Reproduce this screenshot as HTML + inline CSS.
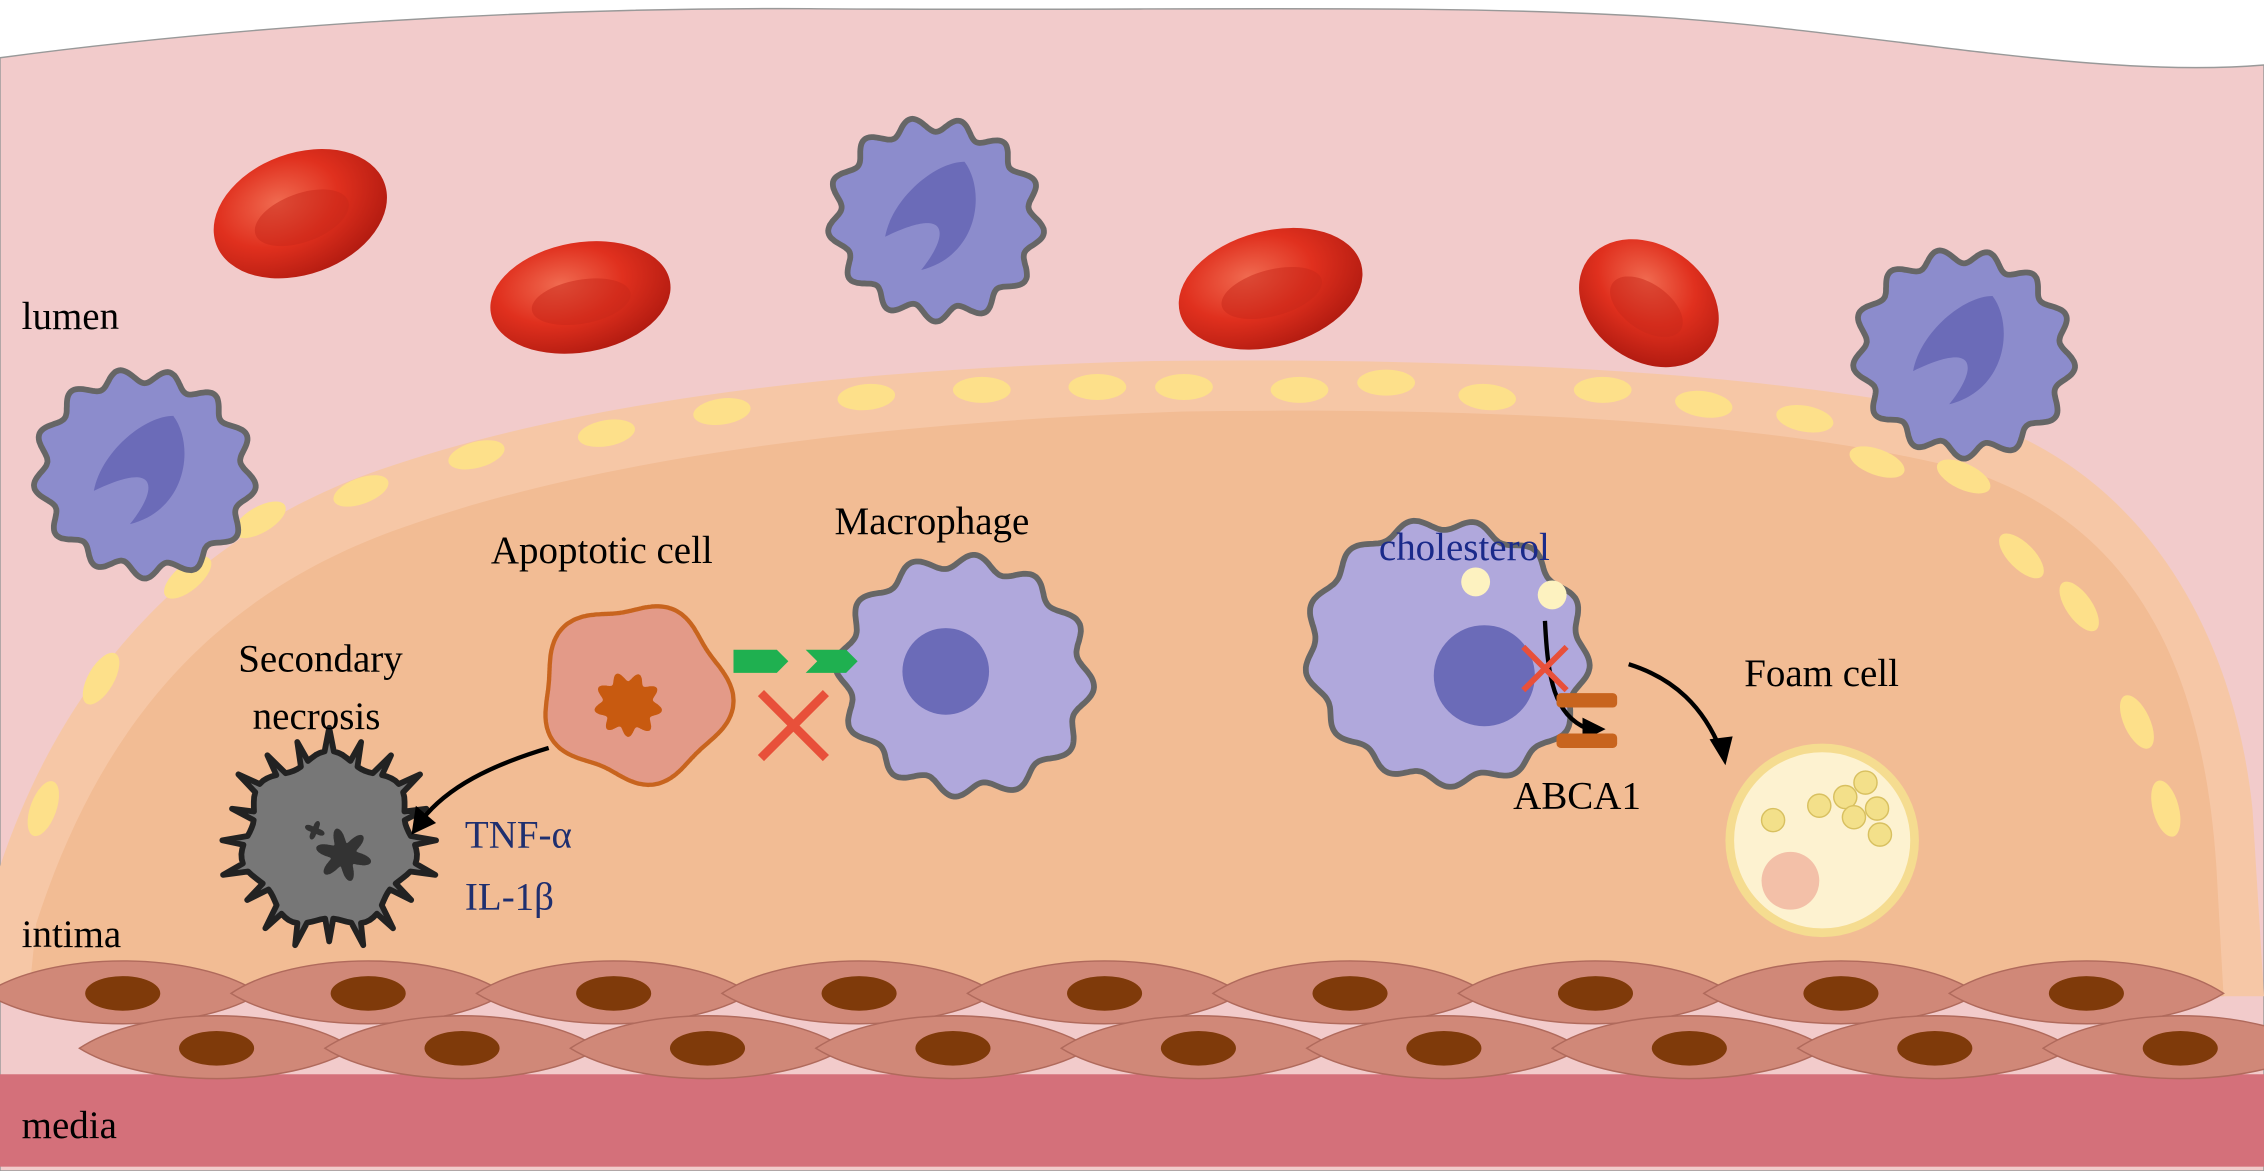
<!DOCTYPE html>
<html><head><meta charset="utf-8"><style>
html,body{margin:0;padding:0;background:#fff;}
svg{display:block;}
text{font-family:"Liberation Serif",serif;font-size:27px;fill:#000;}
</style></head><body>
<svg id="s" width="2264" height="1171" viewBox="0 0 1568 811" preserveAspectRatio="none" xmlns="http://www.w3.org/2000/svg">
<defs>
<radialGradient id="rbc" cx="0.4" cy="0.35" r="0.7">
<stop offset="0" stop-color="#f06a50"/><stop offset="0.5" stop-color="#e0301e"/><stop offset="1" stop-color="#b01a10"/>
</radialGradient>
</defs>
<path d="M0,40 C150,20 350,5 560,6 C800,8 1000,2 1150,12 C1300,22 1450,55 1568,45 L1568,811 L0,811 Z" fill="#f2cbcb" stroke="#999" stroke-width="1"/>
<path d="M0,690 L0,600 C40,480 120,380 250,330 C400,275 600,255 800,250 C1000,248 1200,255 1350,285 C1470,315 1545,420 1560,560 L1568,690 Z" fill="#f6c7a6"/>
<path d="M20,690 L25,640 C70,500 150,410 280,365 C420,315 620,292 820,285 C1020,282 1220,290 1360,325 C1470,360 1525,450 1535,600 L1540,690 Z" fill="#f2bc94"/>
<g id="ovals" fill="#fde08a"></g>
<rect x="0" y="744" width="1568" height="64" fill="#d4707a"/>
<g id="smc"></g>
<g id="cells"></g>
<circle cx="1262" cy="582" r="64" fill="#fdf2d0" stroke="#f5dc90" stroke-width="6"/>
<circle cx="1240" cy="610" r="20" fill="#f3c0a8"/>
<g fill="#f3e08a" stroke="#d8c060" stroke-width="1">
<circle cx="1260" cy="558" r="8"/><circle cx="1278" cy="552" r="8"/><circle cx="1292" cy="542" r="8"/><circle cx="1300" cy="560" r="8"/><circle cx="1284" cy="566" r="8"/><circle cx="1302" cy="578" r="8"/><circle cx="1228" cy="568" r="8"/>
</g>
<g fill="none" stroke="#000" stroke-width="3">
<path d="M380,518 C340,530 310,545 292,568"/>
<path d="M1070,430 C1072,470 1076,495 1100,505"/>
<path d="M1128,460 C1160,470 1180,490 1192,520"/>
</g>
<g fill="#000">
<polygon points="285,578 288,558 302,570"/>
<polygon points="1112,505 1096,497 1096,513"/>
<polygon points="1195,530 1184,512 1200,510"/>
</g>
<rect x="1078" y="480" width="42" height="10" rx="3" fill="#c8641e"/>
<rect x="1078" y="508" width="42" height="10" rx="3" fill="#c8641e"/>
<polygon points="508,450 538,450 546,458 538,466 508,466" fill="#1fb050"/>
<polygon points="558,450 586,450 594,458 586,466 558,466 566,458" fill="#1fb050"/>
<g stroke="#e8503a" stroke-width="6"><line x1="527" y1="480" x2="572" y2="525"/><line x1="572" y1="480" x2="527" y2="525"/></g>
<g stroke="#e8503a" stroke-width="4"><line x1="1055" y1="448" x2="1085" y2="478"/><line x1="1085" y1="448" x2="1055" y2="478"/></g>
<text x="15" y="228">lumen</text>
<text x="340" y="390">Apoptotic cell</text>
<text x="578" y="370">Macrophage</text>
<text x="165" y="465">Secondary</text>
<text x="175" y="505">necrosis</text>
<text x="322" y="587" style="fill:#1f2f6f">TNF-α</text>
<text x="322" y="630" style="fill:#1f2f6f">IL-1β</text>
<text x="15" y="656">intima</text>
<text x="955" y="388" style="fill:#1a2a8a">cholesterol</text>
<text x="1208" y="475">Foam cell</text>
<text x="1048" y="560">ABCA1</text>
<text x="15" y="788">media</text>
</svg>
<script>
var NS="http://www.w3.org/2000/svg";
function el(p,t,a){var e=document.createElementNS(NS,t);for(var k in a)e.setAttribute(k,a[k]);p.appendChild(e);return e;}
function wavy(cx,cy,r,n,amp,rot){var d="";for(var i=0;i<=360;i++){var a=i/360*2*Math.PI;var rr=r+amp*Math.sin(n*a+(rot||0))+r*0.04*Math.sin(2*a+1);var x=cx+rr*Math.cos(a),y=cy+rr*Math.sin(a);d+=(i?"L":"M")+x.toFixed(1)+","+y.toFixed(1);}return d+"Z";}
var ov=document.getElementById("ovals");
var pts=[[30,560,-70],[70,470,-60],[130,400,-40],[180,360,-30],[250,340,-20],[330,315,-15],[420,300,-10],[500,285,-8],[600,275,-5],[680,270,0],[760,268,0],[820,268,0],[900,270,0],[960,265,0],[1030,275,5],[1110,270,0],[1180,280,8],[1250,290,10],[1300,320,20],[1360,330,25],[1400,385,45],[1440,420,55],[1480,500,65],[1500,560,75]];
pts.forEach(function(p){el(ov,"ellipse",{cx:p[0],cy:p[1],rx:20,ry:9,transform:"rotate("+p[2]+" "+p[0]+" "+p[1]+")"});});
var smc=document.getElementById("smc");
function spindle(cx,cy){el(smc,"path",{d:"M"+(cx-95)+","+cy+" C"+(cx-50)+","+(cy-30)+" "+(cx+50)+","+(cy-30)+" "+(cx+95)+","+cy+" C"+(cx+50)+","+(cy+28)+" "+(cx-50)+","+(cy+28)+" "+(cx-95)+","+cy+"Z",fill:"#d08878",stroke:"#b06a5c","stroke-width":1});el(smc,"ellipse",{cx:cx,cy:cy,rx:26,ry:12,fill:"#7f3a0a"});}
[85,255,425,595,765,935,1105,1275,1445].forEach(function(x){spindle(x,688);});
[150,320,490,660,830,1000,1170,1340,1510].forEach(function(x){spindle(x,726);});
var c=document.getElementById("cells");
function rbc(cx,cy,rx,ry,rot){el(c,"ellipse",{cx:cx,cy:cy,rx:rx,ry:ry,fill:"url(#rbc)",transform:"rotate("+rot+" "+cx+" "+cy+")"});el(c,"ellipse",{cx:cx,cy:cy+3,rx:rx*0.55,ry:ry*0.4,fill:"#c8281a",opacity:0.5,transform:"rotate("+rot+" "+cx+" "+cy+")"});}
rbc(208,148,62,42,-20);rbc(402,206,63,38,-10);rbc(880,200,65,40,-15);rbc(1142,210,52,40,35);
function mono(cx,cy,r){el(c,"path",{d:wavy(cx,cy,r,13,5),fill:"#8c8ccc",stroke:"#666","stroke-width":4});
el(c,"path",{d:"M"+(cx-35)+","+(cy+12)+" C"+(cx-30)+","+(cy-15)+" "+(cx)+","+(cy-40)+" "+(cx+20)+","+(cy-40)+" C"+(cx+35)+","+(cy-20)+" "+(cx+30)+","+(cy+25)+" "+(cx-10)+","+(cy+35)+" C"+(cx+10)+","+(cy+10)+" "+(cx+10)+","+(cy-10)+" "+(cx-35)+","+(cy+12)+"Z",fill:"#6b6bb8"});}
mono(100,328,70);mono(648,152,68);mono(1360,245,70);
el(c,"path",{d:wavy(668,468,82,12,5,0.5),fill:"#b0a8dc",stroke:"#666","stroke-width":4});
el(c,"circle",{cx:655,cy:465,r:30,fill:"#6b6bb8"});
el(c,"path",{d:wavy(1002,452,92,13,4,0.3),fill:"#b0a8dc",stroke:"#666","stroke-width":4});
el(c,"circle",{cx:1028,cy:468,r:35,fill:"#6b6bb8"});
el(c,"circle",{cx:1022,cy:403,r:10,fill:"#fdf2c0"});el(c,"circle",{cx:1075,cy:412,r:10,fill:"#fdf2c0"});
el(c,"path",{d:wavy(440,480,62,5,4,1),fill:"#e39a88",stroke:"#c8641e","stroke-width":3});
el(c,"path",{d:wavy(435,488,20,9,3),fill:"#c85a10"});
var d="";for(var i=0;i<=360;i+=3){var a=i/180*Math.PI;var rr=58+((i/3)%6==0?16:0)+4*Math.sin(7*a);d+=(i?"L":"M")+(228+rr*Math.cos(a)).toFixed(1)+","+(582+rr*Math.sin(a)).toFixed(1);}
el(c,"path",{d:d+"Z",fill:"#777",stroke:"#222","stroke-width":4,"stroke-linejoin":"round"});
el(c,"path",{d:wavy(238,592,14,6,5),fill:"#333"});
el(c,"path",{d:wavy(218,575,5,4,2),fill:"#333"});
</script>
</body></html>
